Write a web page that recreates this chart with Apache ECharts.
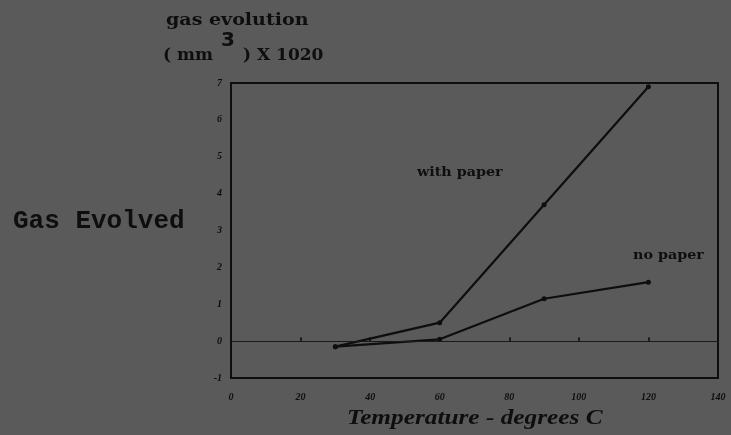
<!DOCTYPE html>
<html><head><meta charset="utf-8">
<script src="https://cdn.jsdelivr.net/npm/echarts@6/dist/echarts.min.js"></script>
<style>html,body{margin:0;padding:0;background:#5a5a5a;}#c{width:731px;height:435px;}</style>
</head><body><div id="c"></div>
<script>
const xTicks = [0, 20, 40, 60, 80, 100, 120, 140];
const yTicks = [-1, 0, 1, 2, 3, 4, 5, 6, 7];
const temperature = [30, 60, 90, 120];
const withPaper = [-0.15, 0.5, 3.7, 6.9];
const noPaper = [-0.15, 0.05, 1.15, 1.6];

const ink = '#0e0e0e';
const chart = echarts.init(document.getElementById('c'));
const pair = (xs, ys) => xs.map((x, i) => [x, ys[i]]);
chart.setOption({
  backgroundColor: '#5a5a5a',
  animation: false,
  grid: { left: 231, right: 13, top: 83, bottom: 57, show: true, borderColor: ink, borderWidth: 2, backgroundColor: 'transparent' },
  xAxis: {
    type: 'value', min: xTicks[0], max: xTicks[xTicks.length - 1], interval: 20,
    axisLine: { show: false },
    axisTick: { show: true, inside: true, length: 4, lineStyle: { color: ink, width: 1.5 } },
    splitLine: { show: false },
    axisLabel: { color: ink, fontFamily: 'Liberation Serif', fontStyle: 'italic', fontWeight: 'bold', fontSize: 10, margin: 14 }
  },
  yAxis: {
    type: 'value', min: yTicks[0], max: yTicks[yTicks.length - 1], interval: 1,
    axisLine: { show: false },
    axisTick: { show: false },
    splitLine: { show: false },
    axisLabel: { color: ink, fontFamily: 'Liberation Serif', fontStyle: 'italic', fontWeight: 'bold', fontSize: 10, margin: 9 }
  },
  series: [
    {
      name: 'with paper', type: 'line', data: pair(temperature, withPaper),
      symbol: 'circle', symbolSize: 5, itemStyle: { color: ink },
      lineStyle: { color: ink, width: 2.2 },
      markLine: {
        silent: true, symbol: 'none', label: { show: false },
        lineStyle: { color: '#1a1a1a', width: 1, type: 'solid' },
        data: [{ yAxis: 0 }]
      }
    },
    {
      name: 'no paper', type: 'line', data: pair(temperature, noPaper),
      symbol: 'circle', symbolSize: 5, itemStyle: { color: ink },
      lineStyle: { color: ink, width: 2.2 }
    }
  ],
  graphic: [
    { type: 'text', x: 166, y: 12, scaleX: 1.12, style: { text: 'gas evolution', fill: ink, font: 'bold 17px "DejaVu Serif"' } },
    { type: 'text', x: 163, y: 47, style: { text: '( mm', fill: ink, font: 'bold 17px "DejaVu Serif"' } },
    { type: 'text', x: 221, y: 31, style: { text: '3', fill: ink, font: 'bold 20px "DejaVu Sans"' } },
    { type: 'text', x: 243, y: 47, style: { text: ') X 1020', fill: ink, font: 'bold 17px "DejaVu Serif"' } },
    { type: 'text', x: 13, y: 208, style: { text: 'Gas Evolved', fill: ink, font: 'bold 26px "Liberation Mono"' } },
    { type: 'text', x: 417, y: 166, scaleX: 1.1, style: { text: 'with paper', fill: ink, font: 'bold 13px "DejaVu Serif"' } },
    { type: 'text', x: 633, y: 249, scaleX: 1.1, style: { text: 'no paper', fill: ink, font: 'bold 13px "DejaVu Serif"' } },
    { type: 'text', x: 347, y: 407, scaleX: 1.15, style: { text: 'Temperature - degrees C', fill: ink, font: 'italic bold 22px "Liberation Serif"' } }
  ]
});
</script></body></html>
